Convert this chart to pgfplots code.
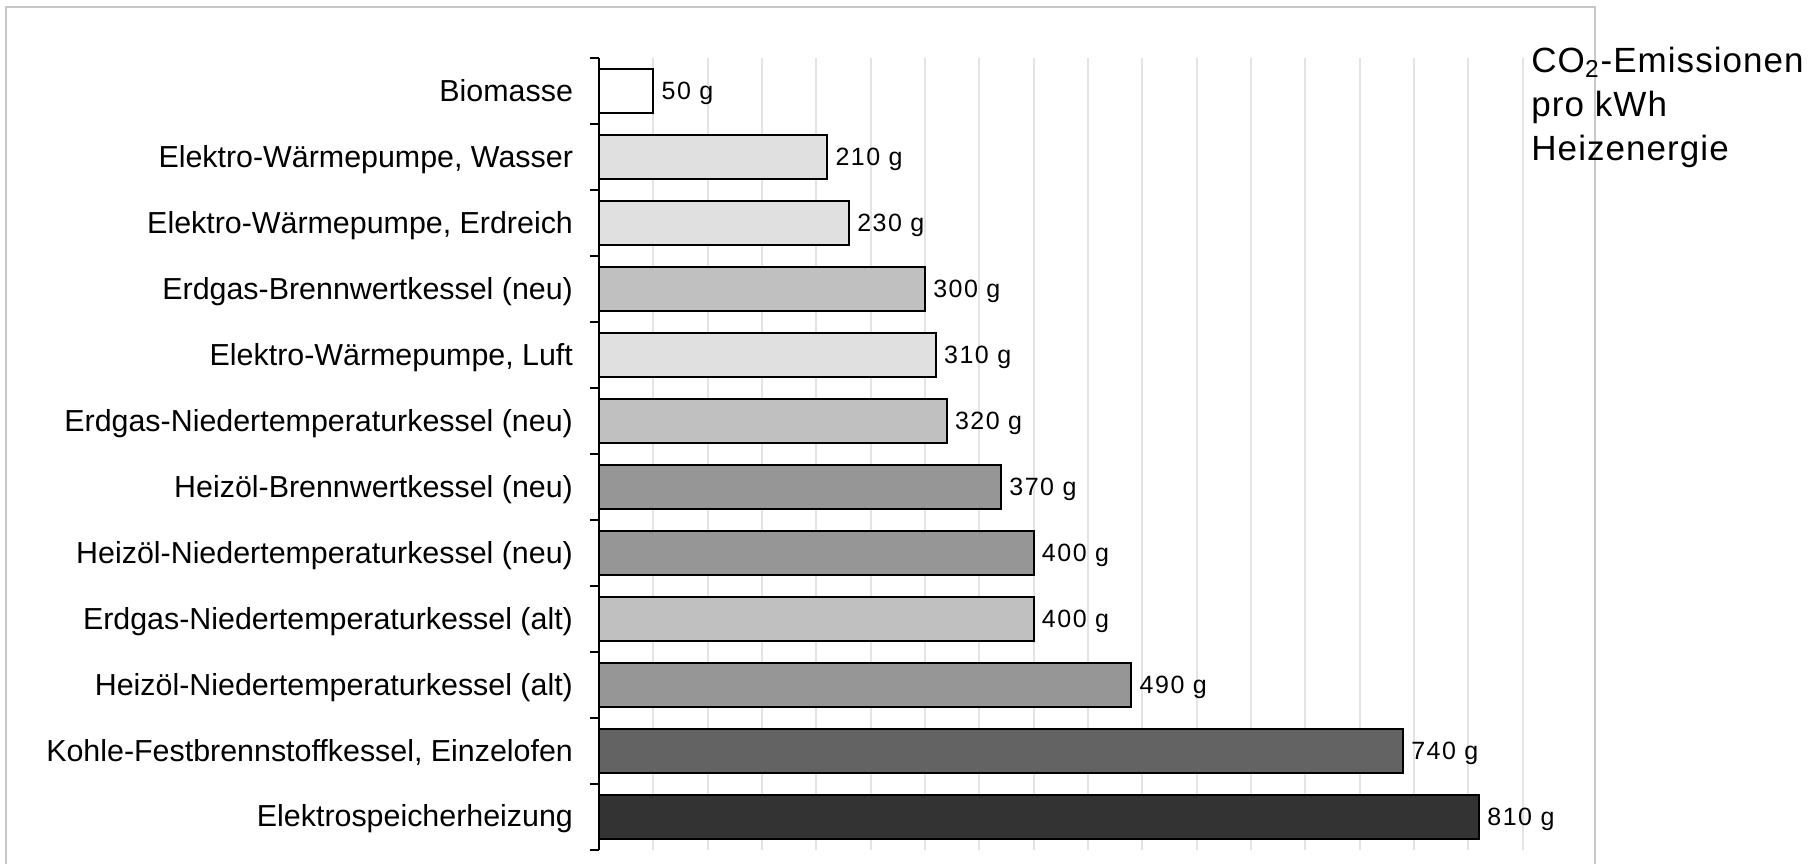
\documentclass[border=0pt]{standalone}
\usepackage{fontspec}
\setmainfont{Liberation Sans}
\newfontfamily\valfont[LetterSpace=6]{Liberation Sans}
\newfontfamily\titlefont[LetterSpace=3]{Liberation Sans}
\usepackage{pgfplots}
\pgfplotsset{compat=1.18}
\definecolor{frameg}{HTML}{C8C8C8}
\definecolor{gridg}{HTML}{E4E4E4}
\definecolor{cA}{HTML}{E0E0E0}
\definecolor{cB}{HTML}{C0C0C0}
\definecolor{cC}{HTML}{969696}
\definecolor{cD}{HTML}{636363}
\definecolor{cE}{HTML}{333333}
\begin{document}
\begin{tikzpicture}
\path[use as bounding box] (0,0) rectangle (470.4pt,224.4pt);
\draw[frameg, line width=0.5pt] (1.6pt,-5pt) -- (1.6pt,222.6pt) -- (414.6pt,222.6pt) -- (414.6pt,-5pt);
\begin{axis}[
  at={(155.7pt,3.6pt)}, anchor=south west,
  scale only axis, width=240pt, height=205.8pt,
  xbar, bar shift=0pt, bar width=0.667,
  xmin=0, xmax=850, ymin=-0.5, ymax=11.5, y dir=reverse,
  axis y line=left, y axis line style={-, black, line width=0.5pt},
  axis x line=bottom, x axis line style={draw=none},
  xtick={0,50,...,850}, xticklabels={}, xmajorgrids,
  major x tick style={draw=none},
  grid style={draw=gridg, line width=0.5pt},
  ytick={0,...,11},
  yticklabels={Biomasse,{Elektro-Wärmepumpe, Wasser},{Elektro-Wärmepumpe, Erdreich},Erdgas-Brennwertkessel (neu),{Elektro-Wärmepumpe, Luft},Erdgas-Niedertemperaturkessel (neu),Heizöl-Brennwertkessel (neu),Heizöl-Niedertemperaturkessel (neu),Erdgas-Niedertemperaturkessel (alt),Heizöl-Niedertemperaturkessel (alt),{Kohle-Festbrennstoffkessel, Einzelofen},Elektrospeicherheizung},
  major y tick style={draw=none}, major tick length=0pt,
  minor ytick={-0.5,0.5,...,11.5}, minor y tick style={black, line width=0.5pt}, minor tick length=2.4pt,
  tick align=outside,
  yticklabel style={font=\fontsize{7.9}{9}\selectfont, anchor=base east, inner sep=0pt, xshift=-6.6pt, yshift=-2.7pt},
  /pgf/number format/assume math mode=true,
  point meta=x,
  nodes near coords={\pgfmathprintnumber{\pgfplotspointmeta} g},
  nodes near coords style={font=\valfont\fontsize{6.5}{7.5}\selectfont, anchor=base west, inner sep=0pt, xshift=1.9pt, yshift=-2.4pt},
  every axis plot/.append style={draw=black, line width=0.5pt},
  clip=false,
]
\addplot[fill=white] coordinates {(50,0)};
\addplot[fill=cA] coordinates {(210,1) (230,2) (310,4)};
\addplot[fill=cB] coordinates {(300,3) (320,5) (400,8)};
\addplot[fill=cC] coordinates {(370,6) (400,7) (490,9)};
\addplot[fill=cD] coordinates {(740,10)};
\addplot[fill=cE] coordinates {(810,11)};
\end{axis}
\begin{scope}[every node/.style={anchor=base west, inner sep=0pt, font=\titlefont\fontsize{9.1}{11}\selectfont}]
\node at (397.8pt,205.6pt) {CO\textsubscript{2}-Emissionen};
\node at (397.8pt,194.1pt) {pro kWh};
\node at (397.8pt,182.6pt) {Heizenergie};
\end{scope}
\end{tikzpicture}
\end{document}
